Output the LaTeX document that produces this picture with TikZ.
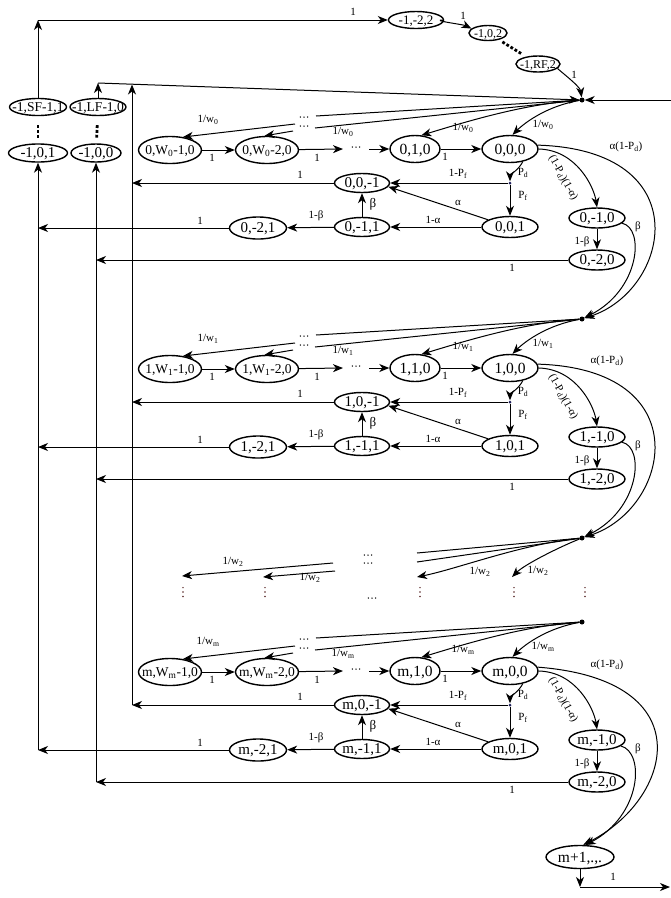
\documentclass[tikz,border=0pt]{standalone}
\usepackage{fontspec}
\setmainfont{Liberation Serif}
\usetikzlibrary{arrows.meta,shapes.geometric}
\definecolor{navy}{RGB}{30,30,90}
\definecolor{dotc}{RGB}{90,40,40}
\newcommand\zb[1]{\makebox[0pt]{#1}}
\begin{document}
\begin{tikzpicture}[x=1pt,y=-1pt,
  every node/.style={inner sep=0pt},
  base/.style={ellipse,draw,line width=1.4pt,inner sep=0pt,text depth=0pt},
  mst/.style={base,font=\fontsize{15.5}{16}\selectfont,text height=10.2pt,minimum height=27pt},
  wst/.style={base,font=\fontsize{13.5}{14}\selectfont,text height=9pt,minimum width=63pt,minimum height=27pt},
  sst/.style={base,font=\fontsize{15}{15}\selectfont,text height=9.9pt,minimum width=55pt,minimum height=19pt},
  tst/.style={base,font=\fontsize{13.5}{14}\selectfont,text height=9pt,minimum height=17pt},
  lab/.style={font=\fontsize{11}{11}\selectfont},
  ar/.style={-{Stealth[length=10pt,width=8pt,inset=3pt]},line width=1pt},
  ln/.style={line width=1pt},
  jdot/.style={circle,fill=black,minimum size=5pt,inner sep=0pt},
  bdot/.style={circle,fill=navy,minimum size=3pt},
  dotv/.style={line width=2.8pt,dash pattern=on 2.8pt off 2pt},
  hdots/.pic={\foreach \i in {-1,0,1} \fill (\i*3.6,0) circle (0.75pt);},
  vdts/.pic={\foreach \i in {-1,0,1} \fill[dotc] (0,\i*4.4) circle (0.85pt);},
]
\useasboundingbox (0,0) rectangle (671,898);

% ---------------- top states ----------------
\node[tst,minimum width=57pt] (T1) at (38,107) {\zb{-1,SF-1,1}};
\node[tst,minimum width=56pt] (T2) at (98,107) {\zb{-1,LF-1,0}};
\node[tst,minimum width=59pt,minimum height=18pt,font=\fontsize{15}{15}\selectfont,text height=9.9pt] (T3) at (38,153) {\zb{-1,0,1}};
\node[tst,minimum width=50pt,minimum height=18pt,font=\fontsize{15}{15}\selectfont,text height=9.9pt] (T4) at (96,153) {\zb{-1,0,0}};
\node[tst,minimum width=55pt,font=\fontsize{13}{13}\selectfont,text height=8.6pt] (T5) at (416,20) {\zb{-1,-2,2}};
\node[tst,minimum width=38pt,minimum height=15pt,font=\fontsize{12}{12}\selectfont,text height=8pt] (T6) at (488,33) {\zb{-1,0,2}};
\node[tst,minimum width=44pt,minimum height=16pt,font=\fontsize{12}{12}\selectfont,text height=8pt] (T7) at (538,64) {\zb{-1,RF,2}};

\draw[dotv,shorten <=9pt,shorten >=5pt] (T1) -- (T3);
\draw[dotv,shorten <=9pt,shorten >=5pt] (T2) -- (T4);
\draw[dotv,shorten <=4pt,shorten >=4pt] (T6) -- (T7);

\coordinate (C38) at (38,20);
\coordinate (C98) at (98,83);
\coordinate (C132) at (132,84.5);
\coordinate (Rin) at (671,100);

% ---------------- blocks 0, 1, m ----------------
\foreach \blk/\dy in {0/0,1/219,m/522}{
 \node[jdot] (J\blk) at (582,100+\dy) {};
 \node[wst] (WA\blk) at (170,150+\dy) {\zb{\blk,W\textsubscript{\blk}-1,0}};
 \node[wst] (WB\blk) at (267,150+\dy) {\zb{\blk,W\textsubscript{\blk}-2,0}};
 \coordinate (DL\blk) at (343,149+\dy);
 \pic at (356,147+\dy) {hdots};
 \coordinate (DR\blk) at (369,149+\dy);
 \node[mst,minimum width=50pt] (N10\blk) at (415,149+\dy) {\zb{\blk,1,0}};
 \node[mst,minimum width=56pt] (N00\blk) at (510,149+\dy) {\zb{\blk,0,0}};
 \node[sst] (Nm1\blk) at (362,183+\dy) {\zb{\blk,0,-1}};
 \node[bdot] (B\blk) at (510,183+\dy) {};
 \node[sst,minimum width=56pt,minimum height=21pt] (N01\blk) at (510,227+\dy) {\zb{\blk,0,1}};
 \node[sst] (Nm11\blk) at (362,227+\dy) {\zb{\blk,-1,1}};
 \node[sst,minimum width=57pt,minimum height=22pt] (N21\blk) at (258,228+\dy) {\zb{\blk,-2,1}};
 \node[sst,minimum width=56pt,minimum height=20pt] (Nn10\blk) at (597,218+\dy) {\zb{\blk,-1,0}};
 \node[sst,minimum width=56pt,minimum height=20pt] (Nn20\blk) at (597,260+\dy) {\zb{\blk,-2,0}};
 \coordinate (L132\blk) at (132,183+\dy);
 \coordinate (L38\blk) at (38,228+\dy);
 \coordinate (L96\blk) at (96,260+\dy);
 \coordinate (FU\blk) at (316,116+\dy);
 \coordinate (FL\blk) at (315,128+\dy);
 \pic at (304,117+\dy) {hdots};
 \pic at (304,126+\dy) {hdots};
 \coordinate (GU\blk) at (295,124+\dy);
 \coordinate (GL\blk) at (293,131+\dy);
 % edges
 \draw[ar] (WA\blk) -- (WB\blk);
 \draw[ar] (WB\blk) -- (DL\blk);
 \draw[ar] (DR\blk) -- (N10\blk);
 \draw[ar] (N10\blk) -- (N00\blk);
 \draw[ar] (J\blk) .. controls +(-35,6) and +(12,-12) .. (N00\blk.80);
 \draw[ar] (J\blk) .. controls +(-60,4) and +(40,-12) .. (N10\blk.65);
 \draw[ln] (J\blk) -- (FU\blk);
 \draw[ln] (J\blk) -- (FL\blk);
 \draw[ar] (GU\blk) -- (WA\blk.45);
 \draw[ar] (GL\blk) -- (WB\blk.100);
 \draw[ar] (N00\blk.-45) .. controls +(-4,8) and +(0,-8) .. (B\blk);
 \draw[ar] (B\blk) -- (N01\blk);
 \draw[ar] (B\blk) -- (Nm1\blk);
 \draw[ar] (Nm1\blk) -- (L132\blk);
 \draw[ar] (N01\blk) -- (Nm1\blk.-8);
 \draw[ar] (N01\blk) -- (Nm11\blk);
 \draw[ar] (Nm11\blk) -- (Nm1\blk);
 \draw[ar] (Nm11\blk) -- (N21\blk);
 \draw[ar] (N21\blk) -- (L38\blk);
 \draw[ar] (N00\blk.east) .. controls +(38,1) and +(-3,-20) .. (Nn10\blk.north);
 \draw[ar] (Nn10\blk) -- (Nn20\blk);
 \draw[ar] (Nn20\blk) -- (L96\blk);
 % labels
 \node[lab] (la\blk) at (212,158+\dy) {1};
 \node[lab] (lb\blk) at (317,158+\dy) {1};
 \node[lab] (lc\blk) at (445,157+\dy) {1};
 \node[lab] (lfa\blk) at (543,125+\dy) {1/w\textsubscript{\blk}};
 \node[lab] (lfb\blk) at (463,128+\dy) {1/w\textsubscript{\blk}};
 \node[lab] (lfc\blk) at (343,132+\dy) {1/w\textsubscript{\blk}};
 \node[lab] (lfd\blk) at (208,120+\dy) {1/w\textsubscript{\blk}};
 \node[lab] (ld\blk) at (300,175+\dy) {1};
 \node[lab] (le\blk) at (458,174+\dy) {1-P\textsubscript{f}};
 \node[lab] (lpd\blk) at (523,173+\dy) {P\textsubscript{d}};
 \node[lab] (lpf\blk) at (523,196+\dy) {P\textsubscript{f}};
 \node[lab] (lal\blk) at (458,203+\dy) {α};
 \node[lab] (lma\blk) at (433,220+\dy) {1-α};
 \node[lab,font=\fontsize{13}{13}\selectfont] (lbe\blk) at (373,204+\dy) {β};
 \node[lab] (lmb\blk) at (316,216+\dy) {1-β};
 \node[lab] (lg\blk) at (200,221+\dy) {1};
 \node[lab] (lmc\blk) at (582,242+\dy) {1-β};
 \node[lab] (lh\blk) at (512,268+\dy) {1};
 \node[lab,rotate=-61] (lr\blk) at (563,178+\dy) {(1-P\textsubscript{d})(1-α)};
 \node[lab] (lbb\blk) at (638,227+\dy) {β};
}

% ---------------- top connectors ----------------
\draw[ar] (T1) -- (C38);
\draw[ar] (C38) -- (T5);
\node[lab] (lt1) at (353,12) {1};
\draw[ar] (T5) .. controls +(12,0) and +(-8,-4) .. (T6.165);
\node[lab] (lt2) at (463,16) {1};
\draw[ar] (T7) .. controls +(18,4) and +(-2,-14) .. (J0);
\node[lab] (lt3) at (574,75) {1};
\draw[ar] (T2) -- (C98);
\draw[ar] (C98) -- (J0);
\draw[ar] (Rin) -- (J0);
\draw[ar] (L132m) -- (C132);
\draw[ar] (L38m) -- (T3);
\draw[ar] (L96m) -- (T4);

% ---------------- transitions between blocks ----------------
\node[jdot] (J2) at (582,538) {};
\node[mst,minimum width=68pt,minimum height=23pt] (M1) at (580,857) {\zb{m+1,.,.}};

\draw[ar] (N000.8) .. controls (700,150) and (670,290) .. (J1);
\draw[ar] (N001.8) .. controls (700,369) and (670,509) .. (J2);
\draw[ar] (N00m.8) .. controls (705,680) and (672,800) .. (M1.75);
\draw[ar] (Nn100) .. controls (645,228) and (640,290) .. (J1);
\draw[ar] (Nn101) .. controls (645,447) and (640,509) .. (J2);
\draw[ar] (Nn10m) .. controls (645,752) and (642,815) .. (M1.65);
\node[lab] (lap0) at (626,147) {α(1-P\textsubscript{d})};
\node[lab] (lap1) at (607,361) {α(1-P\textsubscript{d})};
\node[lab] (lapm) at (607,665) {α(1-P\textsubscript{d})};

\coordinate (E1) at (580,887);
\coordinate (E2) at (670,887);
\draw[ar] (M1) -- (E1);
\draw[ar] (E1) -- (E2);
\node[lab] (le1) at (613,877) {1};

% ---------------- dotted middle block ----------------
\coordinate (K1) at (512,577);
\coordinate (K2) at (417,577);
\coordinate (K3) at (417,553);
\coordinate (K4) at (417,562);
\coordinate (K5) at (333,563);
\coordinate (K6) at (182,576);
\coordinate (K7) at (335,571);
\coordinate (K8) at (263,577);
\draw[ar] (J2) .. controls +(-25,10) and +(12,-12) .. (K1);
\draw[ar] (J2) .. controls +(-60,6) and +(40,-8) .. (K2);
\draw[ln] (J2) -- (K3);
\draw[ln] (J2) -- (K4);
\draw[ar] (K5) -- (K6);
\draw[ar] (K7) -- (K8);
\pic at (368,555) {hdots};
\pic at (368,563) {hdots};
\pic at (372,598) {hdots};
\node[lab] (lw1) at (538,571) {1/w\textsubscript{2}};
\node[lab] (lw2) at (480,572) {1/w\textsubscript{2}};
\node[lab] (lw3) at (233,562) {1/w\textsubscript{2}};
\node[lab] (lw4) at (310,578) {1/w\textsubscript{2}};
\pic at (183,592) {vdts};
\pic at (265,592) {vdts};
\pic at (420,592) {vdts};
\pic at (514,592) {vdts};
\pic at (585,592) {vdts};
\end{tikzpicture}
\end{document}
